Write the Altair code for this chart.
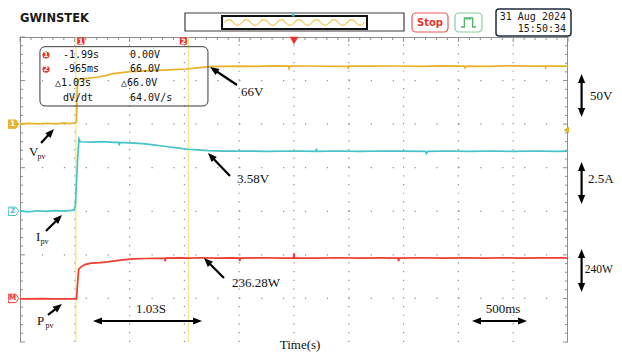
import math
import altair as alt
import pandas as pd

# ================= values =================
# CH1 : PV voltage (V), 50 V/div, ground marker "1"
ch1_t = [-2.50, -2.42, -2.34, -2.26, -2.18, -2.10, -2.04, -2.00, -1.985, -1.975,
         -1.962, -1.90, -1.80, -1.72, -1.65, -1.57, -1.50, -1.40, -1.30, -1.20,
         -1.10, -0.98, -0.88, -0.77, -0.65, -0.50, -0.35, -0.20, -0.05, -0.045,
         -0.04, 0.15, 0.35, 0.49, 0.495, 0.50, 0.70, 0.95, 1.15, 1.35,
         1.55, 1.56, 1.57, 1.75, 1.95, 2.15, 2.29, 2.295, 2.30, 2.50]
ch1_v = [0.3, 0.9, 0.2, 1.0, 0.4, 1.1, 0.6, 1.6, 2.2, 47.0,
         51.5, 52.2, 53.8, 55.6, 58.0, 59.1, 60.2, 60.8, 61.4, 62.0,
         62.6, 63.3, 64.6, 65.9, 66.3, 66.6, 66.4, 66.8, 66.5, 64.2,
         66.5, 66.7, 66.4, 66.6, 63.5, 66.6, 66.5, 66.7, 66.4, 66.8,
         66.6, 64.6, 66.6, 66.4, 66.8, 66.5, 66.6, 64.8, 66.6, 66.6]

# CH2 : PV current (A), 2.5 A/div, ground marker "2"
ch2_t = [-2.50, -2.42, -2.34, -2.26, -2.18, -2.10, -2.03, -2.005, -1.995, -1.975,
         -1.962, -1.95, -1.85, -1.75, -1.65, -1.60, -1.595, -1.59, -1.50, -1.42,
         -1.38, -1.30, -1.22, -1.13, -1.05, -0.97, -0.88, -0.78, -0.65, -0.45,
         -0.25, 0.00, 0.20, 0.205, 0.21, 0.40, 0.60, 0.80, 1.00, 1.20,
         1.21, 1.22, 1.40, 1.60, 1.80, 2.00, 2.20, 2.40, 2.50]
ch2_a = [0.02, -0.03, 0.03, 0.00, 0.04, 0.01, 0.05, 0.08, 0.35, 2.90,
         4.15, 3.99, 3.97, 4.00, 3.95, 3.96, 3.78, 3.95, 3.93, 3.90,
         3.88, 3.82, 3.76, 3.69, 3.62, 3.56, 3.52, 3.48, 3.45, 3.46,
         3.44, 3.46, 3.44, 3.60, 3.44, 3.46, 3.44, 3.46, 3.45, 3.44,
         3.31, 3.44, 3.46, 3.44, 3.46, 3.44, 3.46, 3.44, 3.45]

# MATH : PV power (W), 240 W/div, ground marker "M"
pw_t = [-2.50, -2.40, -2.30, -2.20, -2.10, -2.00, -1.985, -1.965, -1.95, -1.91,
        -1.85, -1.77, -1.70, -1.62, -1.54, -1.47, -1.35, -1.25, -1.18, -1.175,
        -1.17, -1.05, -0.95, -0.86, -0.70, -0.55, -0.50, -0.495, -0.49, -0.30,
        -0.10, -0.005, 0.00, 0.005, 0.20, 0.40, 0.60, 0.80, 0.95, 0.955,
        0.96, 1.15, 1.35, 1.55, 1.75, 1.90, 2.05, 2.25, 2.45, 2.50]
pw_w = [-2, -3, -1, -3, -2, -2, -2, 160, 170, 186,
        194, 197, 201, 208, 214, 218, 220, 221, 222, 204,
        222, 223, 222, 224, 222, 223, 222, 206, 222, 224,
        222, 223, 248, 223, 222, 224, 222, 223, 222, 205,
        222, 224, 222, 223, 222, 224, 222, 223, 224, 222]

cursor_t = [-1.99, -0.965]
cursor_names = ["1", "2"]
readout_col1 = ["-1.99s", "-965ms", "△1.03s", "dV/dt"]
readout_col2 = ["0.00V", "66.0V", "△66.0V", "64.0V/s"]
date_text = ["31 Aug 2024", "15:50:34"]

# ================= layout =================
W, H = 548, 305
T_DOM = [-2.5, 2.5]
N_DIV = 7
PX_T = W / (T_DOM[1] - T_DOM[0])
PX_D = H / N_DIV

YEL, CYN, RED = "#e8b22a", "#46c3c8", "#ef3b30"
CURSOR = "#efe87c"
GRID = "#8e8e8e"
RULER = "#8e8e8e"
INK = "#111111"
SERIF = "Liberation Serif"
MONO = "DejaVu Sans Mono"

xs = alt.Scale(domain=T_DOM, nice=False, zero=False)


def X(f):
    return alt.X(f, type="quantitative", scale=xs, axis=None)


def Yd(f):
    return alt.Y(f, type="quantitative",
                 scale=alt.Scale(domain=[0, N_DIV], nice=False, zero=False), axis=None)


def Ych(f, ground, per_div):
    return alt.Y(f, type="quantitative",
                 scale=alt.Scale(domain=[-ground * per_div, (N_DIV - ground) * per_div],
                                 nice=False, zero=False), axis=None)


one = pd.DataFrame({"k": [0]})
layers = []

# ---------- graticule ----------
gv = pd.DataFrame({"t": [-2.0 + 0.5 * i for i in range(9)]})
layers.append(alt.Chart(gv).mark_rule(color=GRID, strokeWidth=1.2, strokeDash=[1.2, PX_D / 5 - 1.2])
              .encode(x=X("t"), y=alt.value(H), y2=alt.value(0)))
gh = pd.DataFrame({"d": [1, 2, 3, 4, 5, 6]})
layers.append(alt.Chart(gh).mark_rule(color=GRID, strokeWidth=1.2, strokeDash=[1.2, PX_T / 5 - 1.2])
              .encode(x=alt.value(0), x2=alt.value(W), y=Yd("d")))

# frame (top ruler, left / right edges)
layers.append(alt.Chart(one).mark_rule(color=RULER, strokeWidth=1)
              .encode(x=alt.value(0), x2=alt.value(W), y=alt.value(0.5)))
layers.append(alt.Chart(one).mark_rule(color=RULER, strokeWidth=1)
              .encode(x=alt.value(0.5), y=alt.value(0), y2=alt.value(H)))
layers.append(alt.Chart(one).mark_rule(color=RULER, strokeWidth=1)
              .encode(x=alt.value(W - 0.5), y=alt.value(0), y2=alt.value(H)))

top_ticks = pd.DataFrame({"t": [round(-2.5 + 0.1 * i, 3) for i in range(51)],
                          "major": [i % 5 == 0 for i in range(51)]})
layers.append(alt.Chart(top_ticks[~top_ticks.major]).mark_rule(color=RULER)
              .encode(x=X("t"), y=alt.value(0), y2=alt.value(3)))
layers.append(alt.Chart(top_ticks[top_ticks.major]).mark_rule(color=RULER)
              .encode(x=X("t"), y=alt.value(0), y2=alt.value(5)))
side_ticks = pd.DataFrame({"d": [round(0.2 * i, 3) for i in range(36)],
                           "major": [i % 5 == 0 for i in range(36)]})
for lo, hi, sel in [(0, 3, False), (0, 5, True)]:
    layers.append(alt.Chart(side_ticks[side_ticks.major == sel]).mark_rule(color=RULER)
                  .encode(x=alt.value(lo), x2=alt.value(hi), y=Yd("d")))
    layers.append(alt.Chart(side_ticks[side_ticks.major == sel]).mark_rule(color=RULER)
                  .encode(x=alt.value(W - hi), x2=alt.value(W - lo), y=Yd("d")))

# ---------- cursors ----------
cur = pd.DataFrame({"t": cursor_t, "name": cursor_names,
                    "mt": [cursor_t[0] + 0.045, cursor_t[1] - 0.045]})
layers.append(alt.Chart(cur).mark_rule(color=CURSOR, strokeWidth=1.2)
              .encode(x=X("t"), y=alt.value(0), y2=alt.value(H)))

# ---------- traces ----------
layers.append(alt.Chart(pd.DataFrame({"t": ch1_t, "v": ch1_v}))
              .mark_line(color=YEL, strokeWidth=1.7)
              .encode(x=X("t"), y=Ych("v", 5, 50)))
layers.append(alt.Chart(pd.DataFrame({"t": ch2_t, "v": ch2_a}))
              .mark_line(color=CYN, strokeWidth=1.7)
              .encode(x=X("t"), y=Ych("v", 3, 2.5)))
layers.append(alt.Chart(pd.DataFrame({"t": pw_t, "v": pw_w}))
              .mark_line(color=RED, strokeWidth=1.7)
              .encode(x=X("t"), y=Ych("v", 1, 240)))

# ---------- scope markers ----------
# cursor markers on top ruler
layers.append(alt.Chart(cur).mark_point(shape="square", filled=True, size=52, color="#e8352e",
                                        opacity=1)
              .encode(x=X("mt"), y=alt.value(4)))
layers.append(alt.Chart(cur).mark_text(color="white", fontSize=7.5, fontWeight="bold",
                                       font="DejaVu Sans", baseline="middle")
              .encode(x=X("mt"), y=alt.value(4.5), text="name:N"))
# trigger position marker
layers.append(alt.Chart(pd.DataFrame({"t": [0.0]}))
              .mark_point(shape="triangle-down", filled=True, size=80, color="#e8352e", opacity=1)
              .encode(x=X("t"), y=alt.value(3.5)))
# trigger level marker
layers.append(alt.Chart(pd.DataFrame({"t": [2.484], "d": [4.866]}))
              .mark_point(shape="triangle-left", filled=True, size=40, color=YEL, opacity=1)
              .encode(x=X("t"), y=Yd("d")))
# channel ground markers
chm = pd.DataFrame({"d": [5, 3, 1], "lab": ["1", "2", "M"],
                    "fill": [YEL, "white", "white"], "stroke": [YEL, CYN, RED],
                    "tc": ["white", CYN, RED]})
layers.append(alt.Chart(chm).mark_point(shape="M-1,-0.8L0.45,-0.8L1,0L0.45,0.8L-1,0.8Z",
                                        filled=True, size=110, opacity=1, strokeWidth=1)
              .encode(x=alt.value(-6.5), y=Yd("d"),
                      fill=alt.Fill("fill:N", scale=None),
                      stroke=alt.Stroke("stroke:N", scale=None)))
layers.append(alt.Chart(chm).mark_text(fontSize=7.5, fontWeight="bold", font="DejaVu Sans",
                                       baseline="middle")
              .encode(x=alt.value(-7.5), y=Yd("d"), text="lab:N",
                      color=alt.Color("tc:N", scale=None)))

# ---------- cursor readout box ----------
layers.append(alt.Chart(pd.DataFrame({"t": [-2.318], "t2": [-0.785], "d": [6.778], "d2": [5.417]}))
              .mark_rect(fillOpacity=0, stroke="#3a3a3a", strokeWidth=1, cornerRadius=5)
              .encode(x=X("t"), x2="t2", y=Yd("d"), y2="d2"))
rows_d = [6.587, 6.259, 5.937, 5.593]
rd1 = pd.DataFrame({"d": rows_d, "txt": readout_col1, "t": [-2.108, -2.108, -2.181, -2.108]})
rd2 = pd.DataFrame({"d": rows_d, "txt": readout_col2, "t": [-1.496, -1.496, -1.578, -1.496]})
for rd in (rd1, rd2):
    layers.append(alt.Chart(rd).mark_text(font=MONO, fontSize=10, color=INK, align="left",
                                          baseline="middle")
                  .encode(x=X("t"), y=Yd("d"), text="txt:N"))
ic = pd.DataFrame({"t": [-2.263, -2.263], "d": rows_d[:2], "lab": cursor_names})
layers.append(alt.Chart(ic).mark_point(shape="circle", filled=True, size=50, color="#e8352e",
                                       opacity=1)
              .encode(x=X("t"), y=Yd("d")))
layers.append(alt.Chart(ic).mark_text(color="white", fontSize=7, fontWeight="bold",
                                      font="DejaVu Sans", baseline="middle")
              .encode(x=X("t"), y=Yd("d"), text="lab:N"))

# ---------- annotation arrows ----------
HEAD_L = 9.0
HEAD_PATH = "M0,-1L0.8,1L-0.8,1Z"
arrows = [
    (-2.308, 4.567, -2.190, 4.889, False),   # V_pv
    (-2.263, 2.548, -2.117, 2.915, False),   # I_pv
    (-2.245, 0.620, -2.117, 0.872, False),   # P_pv
    (-0.520, 5.899, -0.766, 6.312, False),   # 66V
    (-0.584, 3.810, -0.785, 4.338, False),   # 3.58V
    (-0.639, 1.469, -0.821, 1.928, False),   # 236.28W
    (-1.834, 0.482, -0.839, 0.482, True),    # 1.03S
    (1.624, 0.482, 2.126, 0.482, True),      # 500ms
    (2.624, 6.151, 2.624, 5.164, True),      # 50V
    (2.624, 4.131, 2.624, 3.167, True),      # 2.5A
    (2.624, 2.134, 2.624, 1.148, True),      # 240W
]
shafts, heads = [], []
for ta, da, tb, db, both in arrows:
    dx = (tb - ta) * PX_T
    dy = -(db - da) * PX_D
    L = math.hypot(dx, dy)
    ux, uy = dx / L, dy / L
    ang = math.degrees(math.atan2(ux, -uy)) % 360
    ot, od = ux * HEAD_L / 2 / PX_T, uy * HEAD_L / 2 / PX_D
    hb = (tb - ot, db + od)
    heads.append({"t": hb[0], "d": hb[1], "a": ang})
    st = (ta, da)
    if both:
        st = (ta + ot, da - od)
        heads.append({"t": st[0], "d": st[1], "a": (ang + 180) % 360})
    shafts.append({"t": st[0], "d": st[1], "t2": hb[0], "d2": hb[1]})
layers.append(alt.Chart(pd.DataFrame(shafts)).mark_rule(color="black", strokeWidth=2.2)
              .encode(x=X("t"), y=Yd("d"), x2="t2", y2="d2"))
layers.append(alt.Chart(pd.DataFrame(heads)).mark_point(shape=HEAD_PATH, filled=True,
                                                        size=HEAD_L ** 2, color="black",
                                                        opacity=1, strokeWidth=0)
              .encode(x=X("t"), y=Yd("d"), angle=alt.Angle("a:Q", scale=None)))

# ---------- annotation labels ----------
labels_left = pd.DataFrame({
    "txt": ["V", "I", "P", "66V", "3.58V", "236.28W", "50V", "2.5A"],
    "t": [-2.418, -2.354, -2.345, -0.484, -0.520, -0.566, 2.701, 2.682],
    "d": [4.280, 2.318, 0.390, 5.646, 3.649, 1.262, 5.554, 3.649]})
layers.append(alt.Chart(labels_left).mark_text(font=SERIF, fontSize=13, color=INK, align="left",
                                               baseline="alphabetic")
              .encode(x=X("t"), y=Yd("d"), text="txt:N"))
labels_edge = pd.DataFrame({"txt": ["240W"], "t": [2.652], "d": [1.584]})
layers.append(alt.Chart(labels_edge).mark_text(font=SERIF, fontSize=11.5, color=INK, align="left",
                                               baseline="alphabetic")
              .encode(x=X("t"), y=Yd("d"), text="txt:N"))
subs = pd.DataFrame({"txt": ["pv", "pv", "pv"], "t": [-2.340, -2.313, -2.268],
                     "d": [4.211, 2.249, 0.321]})
layers.append(alt.Chart(subs).mark_text(font=SERIF, fontSize=8, color=INK, align="left",
                                        baseline="alphabetic")
              .encode(x=X("t"), y=Yd("d"), text="txt:N"))
labels_mid = pd.DataFrame({"txt": ["1.03S", "500ms", "Time(s)"],
                           "t": [-1.305, 1.907, 0.055], "d": [0.666, 0.666, -0.170]})
layers.append(alt.Chart(labels_mid).mark_text(font=SERIF, fontSize=13, color=INK, align="center",
                                              baseline="alphabetic")
              .encode(x=X("t"), y=Yd("d"), text="txt:N"))

# ---------- header (scope status bar) ----------
def box(x0, x1, y0, y1, stroke, sw=1.0, radius=0, fill="white"):
    return (alt.Chart(one).mark_rect(fill=fill, stroke=stroke, strokeWidth=sw, cornerRadius=radius)
            .encode(x=alt.value(x0), x2=alt.value(x1), y=alt.value(y0), y2=alt.value(y1)))


layers.append(alt.Chart(one).mark_text(text="GWINSTEK", font="DejaVu Sans", fontWeight="bold",
                                       fontSize=11.5, color="#1a1a1a", align="left",
                                       baseline="middle")
              .encode(x=alt.value(0), y=alt.value(-18)))
layers.append(box(165, 384, -24, -6, "#3c3c3c", 1.2))
layers.append(box(202, 347, -21, -8, "#111111", 2.0))
wave = "M-1,0" + "".join(
    "Q{:.4f},{:.4f} {:.4f},0".format(-1 + 0.125 * k + 0.0625, -0.08 if k % 2 == 0 else 0.08,
                                     -1 + 0.125 * (k + 1)) for k in range(16))
layers.append(alt.Chart(one).mark_point(shape=wave, filled=False, size=140 ** 2, color="#f0c54e",
                                        strokeWidth=1.2, opacity=1)
              .encode(x=alt.value(274.5), y=alt.value(-14.5)))
layers.append(box(272, 274.5, -24, -20.5, CYN, 0, 0, CYN))
layers.append(box(392, 428, -24, -5, "#e85a55", 1.2, 4))
layers.append(alt.Chart(one).mark_text(text="Stop", font="DejaVu Sans", fontWeight="bold",
                                       fontSize=10, color="#e8352e", align="center",
                                       baseline="middle")
              .encode(x=alt.value(410), y=alt.value(-14.5)))
layers.append(box(435, 462, -24, -5, "#86cf9a", 1.2, 4))
pulse = "M-1,0.6L-0.55,0.6L-0.55,-0.6L0.55,-0.6L0.55,0.6L1,0.6M-0.2,-0.6L-0.2,-0.35M0.2,-0.6L0.2,-0.35"
layers.append(alt.Chart(one).mark_point(shape=pulse, filled=False, size=15 ** 2, color="#4fb266",
                                        strokeWidth=1.3, opacity=1)
              .encode(x=alt.value(448.5), y=alt.value(-14.5)))
layers.append(box(476, 551, -28, -1, "#1e2a3a", 1.5, 3))
layers.append(alt.Chart(pd.DataFrame({"txt": date_text, "yy": [-20.5, -8.5]}))
              .mark_text(font=MONO, fontSize=10, color="#1a1a1a", align="right", baseline="middle")
              .encode(x=alt.value(546), y=alt.Y("yy:Q", scale=None), text="txt:N"))

chart = (alt.layer(*layers)
         .resolve_scale(y="independent")
         .properties(width=W, height=H,
                     padding={"left": 12, "top": 29, "right": 46, "bottom": 10},
                     autosize=alt.AutoSizeParams(type="none"))
         .configure_view(strokeWidth=0))

chart.save("out.html", embed_options={"renderer": "svg", "actions": False})
